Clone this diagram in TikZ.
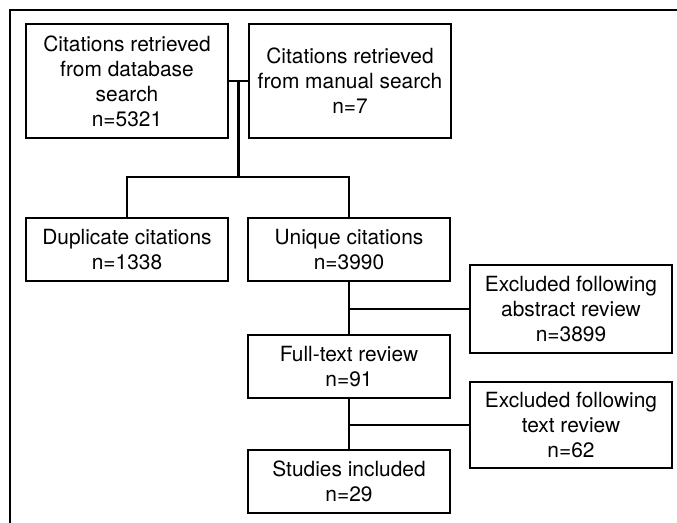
\documentclass[tikz,border=0pt]{standalone}
\usepackage{fontspec}
\setmainfont{TeX Gyre Heros}
\usepackage{tikz}

\begin{document}
\begin{tikzpicture}[x=0.02cm,y=-0.02cm,
    stagebox/.style={draw,line width=1.4pt,inner sep=0pt,align=center,
      minimum width=4.04cm,font=\fontsize{11.9}{14.2}\selectfont},
    link/.style={line width=1.2pt}]
  \useasboundingbox (0,0) rectangle (677,523);
  \def\tall{2.28cm}
  \def\low{1.26cm}

  % frame
  \draw[line width=1pt] (10,523) -- (10,10) -- (677,10);

  % sources
  \node[stagebox,minimum height=\tall] (db) at (127,81) {Citations retrieved\\from database\\search\\n=5321};
  \node[stagebox,minimum height=\tall] (man) at (350,81) {Citations retrieved\\from manual search\\n=7};

  % screening
  \node[stagebox,minimum height=\low] (dup) at (127,249.5) {Duplicate citations\\n=1338};
  \node[stagebox,minimum height=\low] (uniq) at (349,249.5) {Unique citations\\n=3990};
  \node[stagebox,minimum height=1.76cm] (exabs) at (571,309) {Excluded following\\abstract review\\n=3899};
  \node[stagebox,minimum height=\low] (full) at (349,366.5) {Full-text review\\n=91};
  \node[stagebox,minimum height=1.72cm] (extxt) at (571,425) {Excluded following\\text review\\n=62};
  \node[stagebox,minimum height=\low] (incl) at (349,481.5) {Studies included\\n=29};

  % connectors
  \coordinate (split) at (238.5,177);
  \draw[link] (db.east) -- (man.west);
  \draw[link] (split |- db.east) -- (split);
  \draw[link] (dup.north) |- (split) -| (uniq.north);
  \draw[link] (uniq.south) -- (full.north);
  \draw[link] (uniq.south |- exabs.west) -- (exabs.west);
  \draw[link] (full.south) -- (incl.north);
  \draw[link] (full.south |- extxt.west) -- (extxt.west);
\end{tikzpicture}
\end{document}
